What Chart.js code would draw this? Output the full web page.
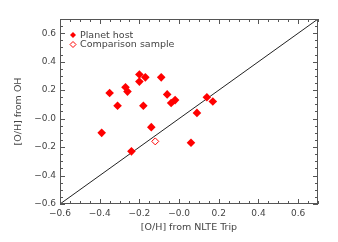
<!DOCTYPE html>
<html>
<head>
<meta charset="utf-8">
<script src="https://cdn.jsdelivr.net/npm/chart.js@4.4.1/dist/chart.umd.min.js"></script>
<style>
  html, body { margin: 0; padding: 0; background: #ffffff; }
  #wrap { width: 338px; height: 242px; position: relative; }
</style>
</head>
<body>
<div id="wrap"><canvas id="chart" width="338" height="242"></canvas></div>
<script>
// planet hosts: [O/H] from NLTE Trip (x) vs [O/H] from OH (y)
const hostX = [-0.39, -0.35, -0.31, -0.27, -0.26, -0.24, -0.20, -0.20, -0.17, -0.18, -0.14, -0.09, -0.06, -0.04, -0.02, 0.06, 0.09, 0.14, 0.17];
const hostY = [-0.10, 0.18, 0.09, 0.22, 0.19, -0.23, 0.31, 0.26, 0.29, 0.09, -0.06, 0.29, 0.17, 0.11, 0.13, -0.17, 0.04, 0.15, 0.12];

const compX = [-0.12];
const compY = [-0.16];

const oneToOne = [-0.6, 0.7];

const tickValues = [-0.6, -0.4, -0.2, 0, 0.2, 0.4, 0.6];
const tickLabels = ["\u22120.6", "\u22120.4", "\u22120.2", "\u22120.0", "0.2", "0.4", "0.6"];
const minorStep = 0.05;

const seriesNames = ["Planet host", "Comparison sample"];

const textColor = "#444444";
const axisColor = "#555555";
const red = "#ff0000";
const font = "DejaVu Sans, sans-serif";

function toPoints(xs, ys) {
  return xs.map((x, i) => ({ x, y: ys[i] }));
}

function formatTick(value) {
  const idx = tickValues.findIndex((t) => Math.abs(t - value) < 1e-6);
  return idx >= 0 ? tickLabels[idx] : "";
}

// IDL style: ticks pointing inward on all four sides, minor every 0.05
const innerTicks = {
  id: "innerTicks",
  afterDraw(chart) {
    const { ctx, chartArea, scales } = chart;
    const { left, right, top, bottom } = chartArea;
    ctx.save();
    ctx.strokeStyle = axisColor;
    ctx.lineWidth = 1;
    ctx.strokeRect(left + 0.5, top + 0.5, right - left - 1, bottom - top - 1);

    const drawFor = (scale, horizontal) => {
      const n = Math.round((scale.max - scale.min) / minorStep);
      for (let i = 0; i <= n; i++) {
        const v = scale.min + i * minorStep;
        const major = tickValues.some((t) => Math.abs(t - v) < 1e-6);
        const len = major ? 5 : 3;
        const p = Math.round(scale.getPixelForValue(v)) + 0.5;
        ctx.beginPath();
        if (horizontal) {
          ctx.moveTo(p, bottom);
          ctx.lineTo(p, bottom - len);
          ctx.moveTo(p, top);
          ctx.lineTo(p, top + len);
        } else {
          ctx.moveTo(left, p);
          ctx.lineTo(left + len, p);
          ctx.moveTo(right, p);
          ctx.lineTo(right - len, p);
        }
        ctx.stroke();
      }
    };
    drawFor(scales.x, true);
    drawFor(scales.y, false);
    ctx.restore();
  },
};

// legend inside the plot, top left
const insideLegend = {
  id: "insideLegend",
  afterDraw(chart) {
    const { ctx, chartArea } = chart;
    const x0 = chartArea.left + 13;
    const y0 = chartArea.top + 16;
    ctx.save();
    ctx.font = "9.5px " + font;
    ctx.textBaseline = "middle";
    ctx.fillStyle = textColor;
    seriesNames.forEach((name, i) => {
      const y = y0 + i * 9.5;
      ctx.beginPath();
      ctx.moveTo(x0, y - 3);
      ctx.lineTo(x0 + 3, y);
      ctx.lineTo(x0, y + 3);
      ctx.lineTo(x0 - 3, y);
      ctx.closePath();
      if (i === 0) {
        ctx.fillStyle = red;
        ctx.fill();
      } else {
        ctx.strokeStyle = red;
        ctx.lineWidth = 1;
        ctx.stroke();
      }
      ctx.fillStyle = textColor;
      ctx.fillText(name, x0 + 7, y + 0.5);
    });
    ctx.restore();
  },
};

const axisCommon = {
  type: "linear",
  min: -0.6,
  max: 0.7,
  grid: { display: false, drawTicks: false },
  border: { display: false },
  afterBuildTicks: (scale) => {
    scale.ticks = tickValues.map((value) => ({ value }));
  },
  ticks: {
    color: textColor,
    font: { family: font, size: 9 },
    callback: formatTick,
    autoSkip: false,
    maxRotation: 0,
  },
};

new Chart(document.getElementById("chart"), {
  type: "scatter",
  plugins: [innerTicks, insideLegend],
  data: {
    datasets: [
      {
        label: "1:1",
        data: toPoints(oneToOne, oneToOne),
        showLine: true,
        borderColor: "#222222",
        borderWidth: 1,
        pointRadius: 0,
        order: 3,
      },
      {
        label: seriesNames[0],
        data: toPoints(hostX, hostY),
        pointStyle: "rectRot",
        pointRadius: 4.3,
        backgroundColor: red,
        borderColor: red,
        borderWidth: 0,
        order: 1,
      },
      {
        label: seriesNames[1],
        data: toPoints(compX, compY),
        pointStyle: "rectRot",
        pointRadius: 3.5,
        backgroundColor: "rgba(255,255,255,0)",
        borderColor: red,
        borderWidth: 1,
        order: 2,
      },
    ],
  },
  options: {
    responsive: false,
    animation: false,
    layout: { padding: { left: 0, right: 20, top: 19, bottom: 0 } },
    plugins: {
      legend: { display: false },
      tooltip: { enabled: false },
    },
    scales: {
      x: {
        ...axisCommon,
        afterFit: (scale) => { scale.height = 38; },
        ticks: { ...axisCommon.ticks, padding: 4 },
        title: {
          display: true,
          text: "[O/H] from NLTE Trip",
          color: textColor,
          font: { family: font, size: 9.5 },
          padding: { top: 0, bottom: 9 },
        },
      },
      y: {
        ...axisCommon,
        afterFit: (scale) => { scale.width = 60; },
        ticks: { ...axisCommon.ticks, padding: 4 },
        title: {
          display: true,
          text: "[O/H] from OH",
          color: textColor,
          font: { family: font, size: 9.5 },
          padding: { top: 13, bottom: 0 },
        },
      },
    },
  },
});
</script>
</body>
</html>
